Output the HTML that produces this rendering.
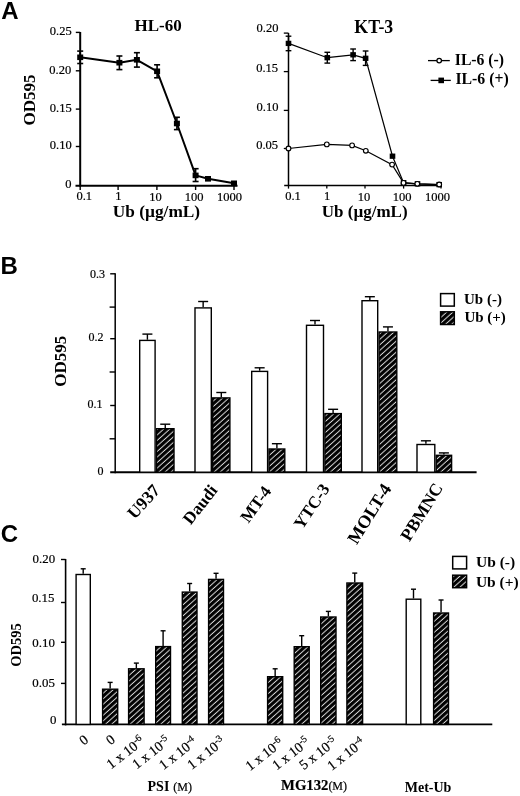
<!DOCTYPE html><html><head><meta charset="utf-8"><title>Figure</title>
<style>html,body{margin:0;padding:0;background:#fff;}svg{display:block;will-change:transform;}</style></head><body>
<svg width="520" height="796" viewBox="0 0 520 796">
<defs><pattern id="hatch" patternUnits="userSpaceOnUse" width="10" height="4.1" patternTransform="rotate(-42)"><rect width="10" height="4.1" fill="#000"/><rect y="1.5" width="10" height="1.0" fill="#d8d8d8"/></pattern></defs>
<rect width="520" height="796" fill="#fff"/>
<text x="9.90" y="19.10" font-family="Liberation Sans" font-size="24" font-weight="bold" text-anchor="middle">A</text>
<line x1="80.20" y1="32.00" x2="80.20" y2="186.60" stroke="#000" stroke-width="2.0"/>
<line x1="75.50" y1="185.70" x2="237.50" y2="185.70" stroke="#000" stroke-width="1.9"/>
<line x1="75.80" y1="32.40" x2="80.20" y2="32.40" stroke="#000" stroke-width="1.4"/>
<line x1="75.80" y1="70.80" x2="80.20" y2="70.80" stroke="#000" stroke-width="1.4"/>
<line x1="75.80" y1="109.10" x2="80.20" y2="109.10" stroke="#000" stroke-width="1.4"/>
<line x1="75.80" y1="146.50" x2="80.20" y2="146.50" stroke="#000" stroke-width="1.4"/>
<text x="60.70" y="34.75" font-family="Liberation Serif" font-size="12.5" stroke="#000" stroke-width="0.2" text-anchor="middle">0.25</text>
<text x="60.30" y="73.60" font-family="Liberation Serif" font-size="12.5" stroke="#000" stroke-width="0.2" text-anchor="middle">0.20</text>
<text x="60.80" y="111.70" font-family="Liberation Serif" font-size="12.5" stroke="#000" stroke-width="0.2" text-anchor="middle">0.15</text>
<text x="60.70" y="149.40" font-family="Liberation Serif" font-size="12.5" stroke="#000" stroke-width="0.2" text-anchor="middle">0.10</text>
<text x="68.40" y="187.50" font-family="Liberation Serif" font-size="12.5" stroke="#000" stroke-width="0.2" text-anchor="middle">0</text>
<line x1="80.20" y1="185.70" x2="80.20" y2="190.00" stroke="#000" stroke-width="1.4"/>
<line x1="118.10" y1="185.70" x2="118.10" y2="190.00" stroke="#000" stroke-width="1.4"/>
<line x1="156.90" y1="185.70" x2="156.90" y2="190.00" stroke="#000" stroke-width="1.4"/>
<line x1="195.60" y1="185.70" x2="195.60" y2="190.00" stroke="#000" stroke-width="1.4"/>
<line x1="234.00" y1="185.70" x2="234.00" y2="190.00" stroke="#000" stroke-width="1.4"/>
<text x="84.20" y="199.90" font-family="Liberation Serif" font-size="12.5" stroke="#000" stroke-width="0.2" text-anchor="middle">0.1</text>
<text x="118.30" y="199.90" font-family="Liberation Serif" font-size="12.5" stroke="#000" stroke-width="0.2" text-anchor="middle">1</text>
<text x="155.40" y="200.65" font-family="Liberation Serif" font-size="12.5" stroke="#000" stroke-width="0.2" text-anchor="middle">10</text>
<text x="194.00" y="200.65" font-family="Liberation Serif" font-size="12.5" stroke="#000" stroke-width="0.2" text-anchor="middle">100</text>
<text x="229.40" y="200.65" font-family="Liberation Serif" font-size="12.5" stroke="#000" stroke-width="0.2" text-anchor="middle">1000</text>
<text x="158.15" y="31.45" font-family="Liberation Serif" font-size="17" font-weight="bold" text-anchor="middle">HL-60</text>
<text x="35.45" y="99.90" font-family="Liberation Serif" font-size="17" font-weight="bold" text-anchor="middle" transform="rotate(-90 35.45 99.90)">OD595</text>
<text x="156.45" y="216.70" font-family="Liberation Serif" font-size="17.3" font-weight="bold" text-anchor="middle">Ub (µg/mL)</text>
<polyline points="80.2,57.3 119.4,62.7 136.9,59.8 157.1,71.3 176.9,123.5 195.6,175.4 208.0,178.8 234.0,183.3" fill="none" stroke="#000" stroke-width="2.0" stroke-linejoin="round"/>
<line x1="80.20" y1="51.10" x2="80.20" y2="63.50" stroke="#000" stroke-width="1.6"/>
<line x1="77.20" y1="51.10" x2="83.20" y2="51.10" stroke="#000" stroke-width="1.6"/>
<line x1="77.20" y1="63.50" x2="83.20" y2="63.50" stroke="#000" stroke-width="1.6"/>
<rect x="77.20" y="54.50" width="6.0" height="5.6" fill="#000"/>
<line x1="119.40" y1="56.00" x2="119.40" y2="69.60" stroke="#000" stroke-width="1.6"/>
<line x1="116.40" y1="56.00" x2="122.40" y2="56.00" stroke="#000" stroke-width="1.6"/>
<line x1="116.40" y1="69.60" x2="122.40" y2="69.60" stroke="#000" stroke-width="1.6"/>
<rect x="116.40" y="59.90" width="6.0" height="5.6" fill="#000"/>
<line x1="136.90" y1="52.70" x2="136.90" y2="67.10" stroke="#000" stroke-width="1.6"/>
<line x1="133.90" y1="52.70" x2="139.90" y2="52.70" stroke="#000" stroke-width="1.6"/>
<line x1="133.90" y1="67.10" x2="139.90" y2="67.10" stroke="#000" stroke-width="1.6"/>
<rect x="133.90" y="57.00" width="6.0" height="5.6" fill="#000"/>
<line x1="157.10" y1="64.80" x2="157.10" y2="77.80" stroke="#000" stroke-width="1.6"/>
<line x1="154.10" y1="64.80" x2="160.10" y2="64.80" stroke="#000" stroke-width="1.6"/>
<line x1="154.10" y1="77.80" x2="160.10" y2="77.80" stroke="#000" stroke-width="1.6"/>
<rect x="154.10" y="68.50" width="6.0" height="5.6" fill="#000"/>
<line x1="176.90" y1="117.30" x2="176.90" y2="129.60" stroke="#000" stroke-width="1.6"/>
<line x1="173.90" y1="117.30" x2="179.90" y2="117.30" stroke="#000" stroke-width="1.6"/>
<line x1="173.90" y1="129.60" x2="179.90" y2="129.60" stroke="#000" stroke-width="1.6"/>
<rect x="173.90" y="120.70" width="6.0" height="5.6" fill="#000"/>
<line x1="195.60" y1="168.70" x2="195.60" y2="181.50" stroke="#000" stroke-width="1.6"/>
<line x1="192.60" y1="168.70" x2="198.60" y2="168.70" stroke="#000" stroke-width="1.6"/>
<line x1="192.60" y1="181.50" x2="198.60" y2="181.50" stroke="#000" stroke-width="1.6"/>
<rect x="192.60" y="172.60" width="6.0" height="5.6" fill="#000"/>
<rect x="205.00" y="176.00" width="6.0" height="5.6" fill="#000"/>
<rect x="231.00" y="180.50" width="6.0" height="5.6" fill="#000"/>
<line x1="288.50" y1="33.00" x2="288.50" y2="186.10" stroke="#000" stroke-width="1.5"/>
<line x1="284.20" y1="185.40" x2="442.00" y2="185.40" stroke="#000" stroke-width="1.5"/>
<line x1="283.80" y1="33.10" x2="288.50" y2="33.10" stroke="#000" stroke-width="1.3"/>
<line x1="283.80" y1="71.60" x2="288.50" y2="71.60" stroke="#000" stroke-width="1.3"/>
<line x1="283.80" y1="110.40" x2="288.50" y2="110.40" stroke="#000" stroke-width="1.3"/>
<line x1="283.80" y1="148.50" x2="288.50" y2="148.50" stroke="#000" stroke-width="1.3"/>
<text x="267.50" y="31.80" font-family="Liberation Serif" font-size="12.5" stroke="#000" stroke-width="0.2" text-anchor="middle">0.20</text>
<text x="267.10" y="72.40" font-family="Liberation Serif" font-size="12.5" stroke="#000" stroke-width="0.2" text-anchor="middle">0.15</text>
<text x="267.50" y="110.50" font-family="Liberation Serif" font-size="12.5" stroke="#000" stroke-width="0.2" text-anchor="middle">0.10</text>
<text x="267.10" y="149.40" font-family="Liberation Serif" font-size="12.5" stroke="#000" stroke-width="0.2" text-anchor="middle">0.05</text>
<line x1="288.50" y1="185.40" x2="288.50" y2="188.60" stroke="#000" stroke-width="1.3"/>
<line x1="326.80" y1="185.40" x2="326.80" y2="188.60" stroke="#000" stroke-width="1.3"/>
<line x1="365.00" y1="185.40" x2="365.00" y2="188.60" stroke="#000" stroke-width="1.3"/>
<line x1="403.60" y1="185.40" x2="403.60" y2="188.60" stroke="#000" stroke-width="1.3"/>
<line x1="441.00" y1="185.40" x2="441.00" y2="188.60" stroke="#000" stroke-width="1.3"/>
<text x="293.00" y="200.45" font-family="Liberation Serif" font-size="12.5" stroke="#000" stroke-width="0.2" text-anchor="middle">0.1</text>
<text x="327.10" y="200.45" font-family="Liberation Serif" font-size="12.5" stroke="#000" stroke-width="0.2" text-anchor="middle">1</text>
<text x="363.90" y="200.65" font-family="Liberation Serif" font-size="12.5" stroke="#000" stroke-width="0.2" text-anchor="middle">10</text>
<text x="402.10" y="200.75" font-family="Liberation Serif" font-size="12.5" stroke="#000" stroke-width="0.2" text-anchor="middle">100</text>
<text x="437.50" y="200.75" font-family="Liberation Serif" font-size="12.5" stroke="#000" stroke-width="0.2" text-anchor="middle">1000</text>
<text x="373.80" y="32.75" font-family="Liberation Serif" font-size="17.8" font-weight="bold" text-anchor="middle">KT-3</text>
<text x="364.70" y="216.75" font-family="Liberation Serif" font-size="17" font-weight="bold" text-anchor="middle">Ub (µg/mL)</text>
<polyline points="288.5,148.5 326.8,144.4 352.1,145.4 365.8,150.8 392.1,164.6 403.5,182.9 417.3,183.8 439.2,184.5" fill="none" stroke="#000" stroke-width="1.2"/>
<polyline points="288.5,43.4 327.3,57.7 353.1,54.8 365.6,58.3 392.5,156.2 403.6,182.7 417.5,183.8 439.2,184.6" fill="none" stroke="#000" stroke-width="1.2"/>
<line x1="288.50" y1="36.20" x2="288.50" y2="50.70" stroke="#000" stroke-width="1.4"/>
<line x1="285.65" y1="36.20" x2="291.35" y2="36.20" stroke="#000" stroke-width="1.4"/>
<line x1="285.65" y1="50.70" x2="291.35" y2="50.70" stroke="#000" stroke-width="1.4"/>
<rect x="285.70" y="40.75" width="5.6" height="5.3" fill="#000"/>
<line x1="327.30" y1="52.30" x2="327.30" y2="63.10" stroke="#000" stroke-width="1.4"/>
<line x1="324.45" y1="52.30" x2="330.15" y2="52.30" stroke="#000" stroke-width="1.4"/>
<line x1="324.45" y1="63.10" x2="330.15" y2="63.10" stroke="#000" stroke-width="1.4"/>
<rect x="324.50" y="55.05" width="5.6" height="5.3" fill="#000"/>
<line x1="353.10" y1="49.00" x2="353.10" y2="60.60" stroke="#000" stroke-width="1.4"/>
<line x1="350.25" y1="49.00" x2="355.95" y2="49.00" stroke="#000" stroke-width="1.4"/>
<line x1="350.25" y1="60.60" x2="355.95" y2="60.60" stroke="#000" stroke-width="1.4"/>
<rect x="350.30" y="52.15" width="5.6" height="5.3" fill="#000"/>
<line x1="365.60" y1="51.00" x2="365.60" y2="65.40" stroke="#000" stroke-width="1.4"/>
<line x1="362.75" y1="51.00" x2="368.45" y2="51.00" stroke="#000" stroke-width="1.4"/>
<line x1="362.75" y1="65.40" x2="368.45" y2="65.40" stroke="#000" stroke-width="1.4"/>
<rect x="362.80" y="55.65" width="5.6" height="5.3" fill="#000"/>
<rect x="389.70" y="153.55" width="5.6" height="5.3" fill="#000"/>
<rect x="400.80" y="180.05" width="5.6" height="5.3" fill="#000"/>
<rect x="414.70" y="181.15" width="5.6" height="5.3" fill="#000"/>
<rect x="436.40" y="181.95" width="5.6" height="5.3" fill="#000"/>
<circle cx="288.5" cy="148.5" r="2.35" fill="#fff" stroke="#000" stroke-width="1.15"/>
<circle cx="326.8" cy="144.4" r="2.35" fill="#fff" stroke="#000" stroke-width="1.15"/>
<circle cx="352.1" cy="145.4" r="2.35" fill="#fff" stroke="#000" stroke-width="1.15"/>
<circle cx="365.8" cy="150.8" r="2.35" fill="#fff" stroke="#000" stroke-width="1.15"/>
<circle cx="392.1" cy="164.6" r="2.35" fill="#fff" stroke="#000" stroke-width="1.15"/>
<circle cx="403.5" cy="182.9" r="2.35" fill="#fff" stroke="#000" stroke-width="1.15"/>
<circle cx="417.3" cy="183.8" r="2.35" fill="#fff" stroke="#000" stroke-width="1.15"/>
<circle cx="439.2" cy="184.5" r="2.35" fill="#fff" stroke="#000" stroke-width="1.15"/>
<line x1="428.00" y1="60.60" x2="449.80" y2="60.60" stroke="#000" stroke-width="1.3"/>
<circle cx="439.2" cy="60.6" r="2.3" fill="#fff" stroke="#000" stroke-width="1.3"/>
<text x="479.40" y="64.95" font-family="Liberation Serif" font-size="15.7" font-weight="bold" text-anchor="middle">IL-6 (-)</text>
<line x1="430.60" y1="80.40" x2="450.80" y2="80.40" stroke="#000" stroke-width="1.3"/>
<rect x="438.40" y="77.60" width="5.6" height="5.6" fill="#000"/>
<text x="482.05" y="84.00" font-family="Liberation Serif" font-size="15.8" font-weight="bold" text-anchor="middle">IL-6 (+)</text>
<text x="9.25" y="274.40" font-family="Liberation Sans" font-size="24" font-weight="bold" text-anchor="middle">B</text>
<line x1="115.20" y1="273.20" x2="115.20" y2="473.20" stroke="#000" stroke-width="1.5"/>
<line x1="110.20" y1="273.80" x2="115.20" y2="273.80" stroke="#000" stroke-width="1.4"/>
<line x1="110.20" y1="338.70" x2="115.20" y2="338.70" stroke="#000" stroke-width="1.4"/>
<line x1="110.20" y1="405.50" x2="115.20" y2="405.50" stroke="#000" stroke-width="1.4"/>
<line x1="109.60" y1="307.10" x2="115.20" y2="307.10" stroke="#000" stroke-width="1.4"/>
<line x1="109.60" y1="372.00" x2="115.20" y2="372.00" stroke="#000" stroke-width="1.4"/>
<line x1="109.60" y1="438.80" x2="115.20" y2="438.80" stroke="#000" stroke-width="1.4"/>
<line x1="110.20" y1="472.20" x2="476.60" y2="472.20" stroke="#000" stroke-width="1.9"/>
<text x="97.50" y="277.70" font-family="Liberation Serif" font-size="12" stroke="#000" stroke-width="0.2" text-anchor="middle">0.3</text>
<text x="96.00" y="341.45" font-family="Liberation Serif" font-size="12" stroke="#000" stroke-width="0.2" text-anchor="middle">0.2</text>
<text x="95.00" y="408.15" font-family="Liberation Serif" font-size="12" stroke="#000" stroke-width="0.2" text-anchor="middle">0.1</text>
<text x="100.60" y="475.05" font-family="Liberation Serif" font-size="12" stroke="#000" stroke-width="0.2" text-anchor="middle">0</text>
<text x="65.85" y="361.30" font-family="Liberation Serif" font-size="17" font-weight="bold" text-anchor="middle" transform="rotate(-90 65.85 361.30)">OD595</text>
<line x1="147.40" y1="339.70" x2="147.40" y2="334.10" stroke="#000" stroke-width="1.4"/>
<line x1="142.40" y1="334.10" x2="152.40" y2="334.10" stroke="#000" stroke-width="1.4"/>
<line x1="165.25" y1="428.00" x2="165.25" y2="424.20" stroke="#000" stroke-width="1.4"/>
<line x1="160.25" y1="424.20" x2="170.25" y2="424.20" stroke="#000" stroke-width="1.4"/>
<rect x="139.70" y="340.40" width="15.40" height="131.80" fill="#fff" stroke="#000" stroke-width="1.4"/>
<rect x="156.50" y="428.70" width="17.50" height="43.50" fill="url(#hatch)" stroke="#000" stroke-width="1.4"/>
<line x1="203.15" y1="307.20" x2="203.15" y2="301.50" stroke="#000" stroke-width="1.4"/>
<line x1="198.15" y1="301.50" x2="208.15" y2="301.50" stroke="#000" stroke-width="1.4"/>
<line x1="221.30" y1="397.20" x2="221.30" y2="392.50" stroke="#000" stroke-width="1.4"/>
<line x1="216.30" y1="392.50" x2="226.30" y2="392.50" stroke="#000" stroke-width="1.4"/>
<rect x="195.00" y="307.90" width="16.30" height="164.30" fill="#fff" stroke="#000" stroke-width="1.4"/>
<rect x="212.70" y="397.90" width="17.20" height="74.30" fill="url(#hatch)" stroke="#000" stroke-width="1.4"/>
<line x1="259.65" y1="370.70" x2="259.65" y2="367.80" stroke="#000" stroke-width="1.4"/>
<line x1="254.65" y1="367.80" x2="264.65" y2="367.80" stroke="#000" stroke-width="1.4"/>
<line x1="276.90" y1="448.30" x2="276.90" y2="443.70" stroke="#000" stroke-width="1.4"/>
<line x1="271.90" y1="443.70" x2="281.90" y2="443.70" stroke="#000" stroke-width="1.4"/>
<rect x="251.70" y="371.40" width="15.90" height="100.80" fill="#fff" stroke="#000" stroke-width="1.4"/>
<rect x="269.00" y="449.00" width="15.80" height="23.20" fill="url(#hatch)" stroke="#000" stroke-width="1.4"/>
<line x1="315.00" y1="324.60" x2="315.00" y2="320.50" stroke="#000" stroke-width="1.4"/>
<line x1="310.00" y1="320.50" x2="320.00" y2="320.50" stroke="#000" stroke-width="1.4"/>
<line x1="333.10" y1="412.90" x2="333.10" y2="409.30" stroke="#000" stroke-width="1.4"/>
<line x1="328.10" y1="409.30" x2="338.10" y2="409.30" stroke="#000" stroke-width="1.4"/>
<rect x="306.50" y="325.30" width="17.00" height="146.90" fill="#fff" stroke="#000" stroke-width="1.4"/>
<rect x="324.90" y="413.60" width="16.40" height="58.60" fill="url(#hatch)" stroke="#000" stroke-width="1.4"/>
<line x1="369.85" y1="300.00" x2="369.85" y2="296.70" stroke="#000" stroke-width="1.4"/>
<line x1="364.85" y1="296.70" x2="374.85" y2="296.70" stroke="#000" stroke-width="1.4"/>
<line x1="387.95" y1="331.30" x2="387.95" y2="326.90" stroke="#000" stroke-width="1.4"/>
<line x1="382.95" y1="326.90" x2="392.95" y2="326.90" stroke="#000" stroke-width="1.4"/>
<rect x="362.00" y="300.70" width="15.70" height="171.50" fill="#fff" stroke="#000" stroke-width="1.4"/>
<rect x="379.10" y="332.00" width="17.70" height="140.20" fill="url(#hatch)" stroke="#000" stroke-width="1.4"/>
<line x1="425.90" y1="443.80" x2="425.90" y2="440.80" stroke="#000" stroke-width="1.4"/>
<line x1="420.90" y1="440.80" x2="430.90" y2="440.80" stroke="#000" stroke-width="1.4"/>
<line x1="443.90" y1="454.60" x2="443.90" y2="452.90" stroke="#000" stroke-width="1.4"/>
<line x1="438.90" y1="452.90" x2="448.90" y2="452.90" stroke="#000" stroke-width="1.4"/>
<rect x="417.00" y="444.50" width="17.80" height="27.70" fill="#fff" stroke="#000" stroke-width="1.4"/>
<rect x="436.20" y="455.30" width="15.40" height="16.90" fill="url(#hatch)" stroke="#000" stroke-width="1.4"/>
<text x="160.90" y="491.00" font-family="Liberation Serif" font-size="17.5" font-weight="bold" text-anchor="end" transform="rotate(-48 160.90 491.00)">U937</text>
<text x="218.20" y="490.50" font-family="Liberation Serif" font-size="17" font-weight="bold" text-anchor="end" transform="rotate(-52 218.20 490.50)">Daudi</text>
<text x="272.00" y="491.35" font-family="Liberation Serif" font-size="17" font-weight="bold" text-anchor="end" transform="rotate(-54 272.00 491.35)">MT-4</text>
<text x="330.20" y="488.70" font-family="Liberation Serif" font-size="17" font-weight="bold" text-anchor="end" transform="rotate(-56 330.20 488.70)">YTC-3</text>
<text x="392.10" y="488.60" font-family="Liberation Serif" font-size="18" font-weight="bold" text-anchor="end" transform="rotate(-58 392.10 488.60)">MOLT-4</text>
<text x="443.55" y="487.75" font-family="Liberation Serif" font-size="17.5" font-weight="bold" text-anchor="end" transform="rotate(-58 443.55 487.75)">PBMNC</text>
<rect x="440.6" y="293.6" width="13.7" height="12.5" fill="#fff" stroke="#000" stroke-width="1.5"/>
<rect x="440.6" y="311.8" width="13.7" height="12.7" fill="url(#hatch)" stroke="#000" stroke-width="1.5"/>
<text x="482.95" y="303.70" font-family="Liberation Serif" font-size="15" font-weight="bold" text-anchor="middle">Ub (-)</text>
<text x="485.15" y="322.25" font-family="Liberation Serif" font-size="15" font-weight="bold" text-anchor="middle">Ub (+)</text>
<text x="9.40" y="541.50" font-family="Liberation Sans" font-size="24" font-weight="bold" text-anchor="middle">C</text>
<line x1="65.60" y1="559.00" x2="65.60" y2="725.40" stroke="#000" stroke-width="1.6"/>
<line x1="61.00" y1="559.50" x2="65.60" y2="559.50" stroke="#000" stroke-width="1.4"/>
<line x1="61.00" y1="602.50" x2="65.60" y2="602.50" stroke="#000" stroke-width="1.4"/>
<line x1="61.00" y1="642.30" x2="65.60" y2="642.30" stroke="#000" stroke-width="1.4"/>
<line x1="61.00" y1="683.40" x2="65.60" y2="683.40" stroke="#000" stroke-width="1.4"/>
<line x1="61.90" y1="724.40" x2="492.30" y2="724.40" stroke="#000" stroke-width="1.9"/>
<text x="43.90" y="562.90" font-family="Liberation Serif" font-size="12.9" stroke="#000" stroke-width="0.2" text-anchor="middle">0.20</text>
<text x="43.20" y="602.20" font-family="Liberation Serif" font-size="12.9" stroke="#000" stroke-width="0.2" text-anchor="middle">0.15</text>
<text x="43.60" y="646.55" font-family="Liberation Serif" font-size="12.9" stroke="#000" stroke-width="0.2" text-anchor="middle">0.10</text>
<text x="43.60" y="686.75" font-family="Liberation Serif" font-size="12.9" stroke="#000" stroke-width="0.2" text-anchor="middle">0.05</text>
<text x="53.30" y="724.45" font-family="Liberation Serif" font-size="12.9" stroke="#000" stroke-width="0.2" text-anchor="middle">0</text>
<text x="21.05" y="644.95" font-family="Liberation Serif" font-size="14.5" font-weight="bold" text-anchor="middle" transform="rotate(-90 21.05 644.95)">OD595</text>
<line x1="83.20" y1="573.80" x2="83.20" y2="568.80" stroke="#000" stroke-width="1.4"/>
<line x1="80.70" y1="568.80" x2="85.70" y2="568.80" stroke="#000" stroke-width="1.4"/>
<rect x="76.10" y="574.50" width="14.20" height="149.90" fill="#fff" stroke="#000" stroke-width="1.4"/>
<line x1="110.15" y1="688.50" x2="110.15" y2="682.40" stroke="#000" stroke-width="1.4"/>
<line x1="107.65" y1="682.40" x2="112.65" y2="682.40" stroke="#000" stroke-width="1.4"/>
<rect x="102.60" y="689.20" width="15.10" height="35.20" fill="url(#hatch)" stroke="#000" stroke-width="1.4"/>
<line x1="136.35" y1="668.10" x2="136.35" y2="663.10" stroke="#000" stroke-width="1.4"/>
<line x1="133.85" y1="663.10" x2="138.85" y2="663.10" stroke="#000" stroke-width="1.4"/>
<rect x="128.60" y="668.80" width="15.50" height="55.60" fill="url(#hatch)" stroke="#000" stroke-width="1.4"/>
<line x1="163.10" y1="645.90" x2="163.10" y2="630.80" stroke="#000" stroke-width="1.4"/>
<line x1="160.60" y1="630.80" x2="165.60" y2="630.80" stroke="#000" stroke-width="1.4"/>
<rect x="155.70" y="646.60" width="14.80" height="77.80" fill="url(#hatch)" stroke="#000" stroke-width="1.4"/>
<line x1="189.65" y1="591.40" x2="189.65" y2="583.50" stroke="#000" stroke-width="1.4"/>
<line x1="187.15" y1="583.50" x2="192.15" y2="583.50" stroke="#000" stroke-width="1.4"/>
<rect x="182.30" y="592.10" width="14.70" height="132.30" fill="url(#hatch)" stroke="#000" stroke-width="1.4"/>
<line x1="216.05" y1="578.70" x2="216.05" y2="573.30" stroke="#000" stroke-width="1.4"/>
<line x1="213.55" y1="573.30" x2="218.55" y2="573.30" stroke="#000" stroke-width="1.4"/>
<rect x="208.60" y="579.40" width="14.90" height="145.00" fill="url(#hatch)" stroke="#000" stroke-width="1.4"/>
<line x1="275.15" y1="676.00" x2="275.15" y2="668.80" stroke="#000" stroke-width="1.4"/>
<line x1="272.65" y1="668.80" x2="277.65" y2="668.80" stroke="#000" stroke-width="1.4"/>
<rect x="267.60" y="676.70" width="15.10" height="47.70" fill="url(#hatch)" stroke="#000" stroke-width="1.4"/>
<line x1="301.70" y1="646.00" x2="301.70" y2="635.70" stroke="#000" stroke-width="1.4"/>
<line x1="299.20" y1="635.70" x2="304.20" y2="635.70" stroke="#000" stroke-width="1.4"/>
<rect x="294.20" y="646.70" width="15.00" height="77.70" fill="url(#hatch)" stroke="#000" stroke-width="1.4"/>
<line x1="328.35" y1="616.30" x2="328.35" y2="611.40" stroke="#000" stroke-width="1.4"/>
<line x1="325.85" y1="611.40" x2="330.85" y2="611.40" stroke="#000" stroke-width="1.4"/>
<rect x="320.70" y="617.00" width="15.30" height="107.40" fill="url(#hatch)" stroke="#000" stroke-width="1.4"/>
<line x1="354.75" y1="582.30" x2="354.75" y2="573.10" stroke="#000" stroke-width="1.4"/>
<line x1="352.25" y1="573.10" x2="357.25" y2="573.10" stroke="#000" stroke-width="1.4"/>
<rect x="346.90" y="583.00" width="15.70" height="141.40" fill="url(#hatch)" stroke="#000" stroke-width="1.4"/>
<line x1="413.50" y1="598.50" x2="413.50" y2="589.20" stroke="#000" stroke-width="1.4"/>
<line x1="411.00" y1="589.20" x2="416.00" y2="589.20" stroke="#000" stroke-width="1.4"/>
<rect x="406.20" y="599.20" width="14.60" height="125.20" fill="#fff" stroke="#000" stroke-width="1.4"/>
<line x1="441.05" y1="612.30" x2="441.05" y2="600.00" stroke="#000" stroke-width="1.4"/>
<line x1="438.55" y1="600.00" x2="443.55" y2="600.00" stroke="#000" stroke-width="1.4"/>
<rect x="433.60" y="613.00" width="14.90" height="111.40" fill="url(#hatch)" stroke="#000" stroke-width="1.4"/>
<rect x="452.7" y="556.4" width="13.9" height="12.5" fill="#fff" stroke="#000" stroke-width="1.5"/>
<rect x="452.7" y="575.2" width="13.9" height="12.5" fill="url(#hatch)" stroke="#000" stroke-width="1.5"/>
<text x="495.60" y="567.00" font-family="Liberation Serif" font-size="15.5" font-weight="bold" text-anchor="middle">Ub (-)</text>
<text x="497.35" y="586.55" font-family="Liberation Serif" font-size="15.5" font-weight="bold" text-anchor="middle">Ub (+)</text>
<text x="89.35" y="741.35" font-family="Liberation Serif" font-size="14" stroke="#000" stroke-width="0.2" text-anchor="end" transform="rotate(-38 89.35 741.35)">0</text>
<text x="115.90" y="741.25" font-family="Liberation Serif" font-size="14" stroke="#000" stroke-width="0.2" text-anchor="end" transform="rotate(-38 115.90 741.25)">0</text>
<text x="145.15" y="742.95" font-family="Liberation Serif" font-size="14" stroke="#000" stroke-width="0.2" text-anchor="end" transform="rotate(-38 145.15 742.95)">1 x 10<tspan font-size="9.80" dy="-4.90">-6</tspan></text>
<text x="170.80" y="742.90" font-family="Liberation Serif" font-size="14" stroke="#000" stroke-width="0.2" text-anchor="end" transform="rotate(-38 170.80 742.90)">1 x 10<tspan font-size="9.80" dy="-4.90">-5</tspan></text>
<text x="197.65" y="743.70" font-family="Liberation Serif" font-size="14" stroke="#000" stroke-width="0.2" text-anchor="end" transform="rotate(-38 197.65 743.70)">1 x 10<tspan font-size="9.80" dy="-4.90">-4</tspan></text>
<text x="225.90" y="743.35" font-family="Liberation Serif" font-size="14" stroke="#000" stroke-width="0.2" text-anchor="end" transform="rotate(-38 225.90 743.35)">1 x 10<tspan font-size="9.80" dy="-4.90">-3</tspan></text>
<text x="284.05" y="744.65" font-family="Liberation Serif" font-size="14" stroke="#000" stroke-width="0.2" text-anchor="end" transform="rotate(-38 284.05 744.65)">1 x 10<tspan font-size="9.80" dy="-4.90">-6</tspan></text>
<text x="310.75" y="743.90" font-family="Liberation Serif" font-size="14" stroke="#000" stroke-width="0.2" text-anchor="end" transform="rotate(-38 310.75 743.90)">1 x 10<tspan font-size="9.80" dy="-4.90">-5</tspan></text>
<text x="337.80" y="743.55" font-family="Liberation Serif" font-size="14" stroke="#000" stroke-width="0.2" text-anchor="end" transform="rotate(-38 337.80 743.55)">5 x 10<tspan font-size="9.80" dy="-4.90">-5</tspan></text>
<text x="365.75" y="744.40" font-family="Liberation Serif" font-size="14" stroke="#000" stroke-width="0.2" text-anchor="end" transform="rotate(-38 365.75 744.40)">1 x 10<tspan font-size="9.80" dy="-4.90">-4</tspan></text>
<text x="158.45" y="791.15" font-family="Liberation Serif" font-size="14" font-weight="bold" text-anchor="middle">PSI</text>
<text x="182.65" y="791.00" font-family="Liberation Serif" font-size="12" stroke="#000" stroke-width="0.2" text-anchor="middle">(M)</text>
<text x="314.05" y="790.40" font-family="Liberation Serif" font-size="14.7" stroke="#000" stroke-width="0.2" text-anchor="middle"><tspan font-weight="bold">MG132</tspan><tspan font-size="12">(M)</tspan></text>
<text x="428.05" y="791.90" font-family="Liberation Serif" font-size="14" font-weight="bold" text-anchor="middle">Met-Ub</text>
</svg></body></html>
